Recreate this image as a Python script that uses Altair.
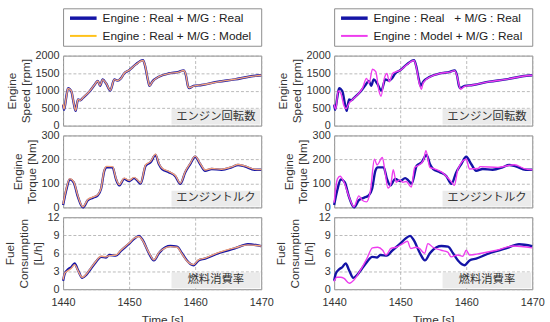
import altair as alt
import pandas as pd

FONT = "Liberation Sans"
JP_FONT = "Noto Sans CJK JP"

BLUE = "#1414A6"
MAGENTA = "#EE3CEE"
YELLOW = "#FFC21A"
PEACH = "#F2A27A"

# Time axis ticks [s]
x_ticks = [1440, 1450, 1460, 1470]

# ---- Engine speed [rpm] ----
spd_t = [1440.0, 1440.15, 1440.5, 1440.75, 1441.25, 1441.6, 1441.9, 1442.25, 1442.6, 1443.0,
         1444.0, 1444.75, 1445.25, 1445.6, 1446.0, 1446.5, 1447.15, 1447.75, 1448.25, 1448.75,
         1449.25, 1450.0, 1451.0, 1452.1, 1452.4, 1452.85, 1453.1, 1453.5, 1454.5, 1456.0,
         1457.5, 1458.25, 1458.6, 1458.9, 1459.1, 1459.75, 1461.0, 1463.5, 1466.0, 1468.5, 1470.0]
spd_real = [600, 450, 840, 1070, 980, 650, 420, 745, 725, 790,
            975, 1160, 1280, 1140, 1320, 1210, 1000, 1320, 1285, 1350,
            1490, 1580, 1750, 1870, 1720, 1300, 1135, 1255, 1395, 1490,
            1535, 1580, 1440, 1135, 1070, 1135, 1160, 1255, 1320, 1410, 1440]
spd_mg_model = [620, 470, 830, 1060, 990, 660, 430, 750, 720, 795,
                980, 1165, 1275, 1150, 1315, 1215, 1010, 1315, 1290, 1345,
                1495, 1585, 1745, 1860, 1730, 1310, 1140, 1250, 1400, 1485,
                1530, 1575, 1450, 1140, 1080, 1130, 1165, 1250, 1325, 1405, 1440]
spd_eng_t = [1440.0, 1440.25, 1440.6, 1441.0, 1441.5, 1441.8, 1442.3, 1442.8, 1443.55, 1444.3,
             1444.9, 1445.3, 1445.8, 1446.3, 1446.8, 1447.1, 1447.6, 1448.0, 1448.35, 1448.85,
             1449.35, 1450.0, 1451.0, 1452.1, 1452.4, 1452.9, 1453.2, 1453.5, 1454.5, 1456.0,
             1457.5, 1458.25, 1458.6, 1459.0, 1459.15, 1459.75, 1461.0, 1463.5, 1466.0, 1468.5, 1470.0]
spd_eng_model = [600, 470, 990, 930, 560, 480, 650, 745, 885, 1070,
                 1350, 1210, 1610, 1540, 980, 840, 1350, 1490, 1255, 1490,
                 1535, 1580, 1740, 1860, 1700, 1200, 1040, 1230, 1390, 1490,
                 1530, 1570, 1420, 1100, 1040, 1120, 1160, 1255, 1320, 1410, 1440]

# ---- Engine torque [Nm] ----
trq_t = [1440.0, 1440.5, 1441.0, 1441.6, 1442.25, 1443.0, 1443.75, 1444.5, 1445.25, 1445.75,
         1446.25, 1446.6, 1447.5, 1448.0, 1448.5, 1449.25, 1450.0, 1450.75, 1451.25, 1451.75,
         1452.5, 1453.25, 1454.0, 1454.5, 1455.0, 1456.0, 1457.0, 1457.75, 1458.5, 1459.25,
         1460.0, 1460.75, 1461.5, 1462.5, 1464.0, 1465.5, 1466.5, 1467.5, 1469.0, 1470.0]
trq_real = [10, 75, 117, 105, 44, 0, 30, 40, 50, 78,
            153, 167, 167, 119, 92, 119, 110, 122, 112, 99,
            174, 188, 219, 181, 160, 147, 130, 98, 147, 181,
            211, 181, 153, 160, 157, 167, 177, 171, 157, 157]
trq_mg_model = [14, 80, 120, 108, 47, 3, 33, 43, 53, 80,
                157, 171, 170, 122, 95, 122, 113, 125, 115, 102,
                178, 192, 222, 184, 163, 150, 133, 101, 150, 184,
                214, 184, 156, 162, 159, 169, 179, 173, 159, 158]
trq_eng_t = [1440.0, 1440.5, 1440.9, 1441.5, 1442.25, 1443.0, 1443.75, 1444.25, 1444.9, 1445.5,
             1446.1, 1446.5, 1447.3, 1447.65, 1448.15, 1448.6, 1448.95, 1449.4, 1449.9, 1450.4,
             1450.9, 1451.7, 1452.2, 1452.7, 1453.5, 1453.9, 1454.5, 1455.3, 1456.3, 1457.8,
             1458.2, 1458.75, 1460.0, 1460.5, 1461.8, 1462.1, 1464.8, 1467.3, 1468.8, 1470.0]
trq_eng_model = [20, 119, 130, 105, 44, 3, 48, 30, 23, 71,
                 201, 177, 208, 160, 81, 99, 157, 105, 115, 105,
                 108, 85, 167, 174, 195, 236, 167, 160, 147, 105,
                 92, 160, 201, 160, 162, 170, 167, 178, 162, 157]

# ---- Fuel consumption [L/h] ----
fuel_t = [1440.0, 1440.25, 1440.75, 1441.25, 1441.75, 1442.25, 1442.9, 1443.5, 1444.25, 1445.0,
          1445.75, 1446.5, 1447.0, 1448.0, 1448.75, 1450.0, 1450.75, 1451.5, 1452.0, 1453.0,
          1453.75, 1454.5, 1455.5, 1456.25, 1457.25, 1458.0, 1458.75, 1459.75, 1460.5, 1461.5,
          1463.5, 1466.0, 1468.0, 1470.0]
fuel_real = [1.4, 2.6, 3.3, 3.7, 4.3, 3.2, 1.9, 2.4, 3.5, 4.6,
             5.4, 5.3, 5.7, 5.6, 6.4, 7.6, 8.4, 8.9, 8.3, 6.0,
             4.8, 6.0, 7.0, 7.2, 7.1, 6.0, 4.8, 4.0, 4.8, 5.1,
             6.0, 6.8, 7.5, 7.2]
fuel_mg_model = [1.6, 2.7, 3.1, 3.5, 4.1, 3.1, 2.0, 2.5, 3.6, 4.7,
                 5.5, 5.4, 5.6, 5.7, 6.5, 7.7, 8.5, 8.8, 8.2, 6.1,
                 4.9, 6.1, 6.9, 7.1, 7.0, 5.9, 4.7, 4.1, 4.9, 5.2,
                 6.1, 6.9, 7.4, 7.2]
fuel_eng_t = [1440.0, 1440.4, 1441.0, 1441.5, 1442.3, 1443.05, 1444.05, 1444.95, 1445.8, 1446.6,
              1447.35, 1447.85, 1448.6, 1449.4, 1450.4, 1451.1, 1451.6, 1452.4, 1452.9, 1453.7,
              1454.2, 1454.95, 1456.2, 1457.2, 1457.7, 1458.7, 1459.5, 1460.0, 1460.5, 1462.3,
              1464.6, 1467.1, 1470.0]
fuel_eng_model = [1.3, 2.0, 2.0, 1.8, 1.0, 1.6, 3.3, 5.1, 6.9, 7.0,
                  6.5, 5.7, 6.8, 7.0, 7.6, 8.0, 6.8, 7.0, 6.8, 6.0,
                  7.6, 7.0, 6.5, 6.2, 5.4, 5.7, 5.5, 6.5, 5.7, 6.0,
                  6.5, 7.2, 6.9]

# Legend entries
left_labels = ["Engine : Real + M/G : Real", "Engine : Real + M/G : Model"]
right_labels = ["Engine : Real\u00a0\u00a0\u00a0+ M/G : Real", "Engine : Model + M/G : Real"]


def frame(t, v):
    return pd.DataFrame({"t": t, "v": v})


def legend_box(labels, colors, widths):
    df = pd.DataFrame({"label": labels, "row": [0, 1]})
    y = alt.Y("row:Q", axis=None, scale=alt.Scale(domain=[0, 1], range=[10, 28]))
    rule = alt.Chart(df).mark_rule().encode(
        x=alt.value(7), x2=alt.value(34), y=y,
        color=alt.Color("label:N", scale=alt.Scale(domain=labels, range=colors), legend=None),
        strokeWidth=alt.StrokeWidth("label:N", scale=alt.Scale(domain=labels, range=widths), legend=None),
    )
    text = alt.Chart(df).mark_text(align="left", baseline="middle", font=FONT, fontSize=12,
                                   color="#222222").encode(x=alt.value(40), y=y, text="label:N")
    return alt.layer(rule, text).properties(width=201, height=38)


def panel(real_t, real_v, other_t, other_v, other_color, y_dom, y_ticks, y_title, tag, h, bottom):
    if bottom:
        x_axis = alt.Axis(values=x_ticks, title="Time [s]", format="d", labelFlush=False,
                          labelOverlap=False, labelPadding=8, titlePadding=7)
    else:
        x_axis = alt.Axis(values=x_ticks, labels=False, title=None)
    x = alt.X("t:Q", scale=alt.Scale(domain=[1440, 1470], nice=False, zero=False), axis=x_axis)
    y = alt.Y("v:Q", scale=alt.Scale(domain=y_dom, nice=False),
              axis=alt.Axis(values=y_ticks, title=y_title, format="d", labelOverlap=False))
    tag_df = pd.DataFrame({"tag": [tag]})
    box = alt.Chart(tag_df).mark_rect(color="#EBEBEB").encode(
        x=alt.value(110), x2=alt.value(200), y=alt.value(h - 17), y2=alt.value(h - 1))
    txt = alt.Chart(tag_df).mark_text(font=JP_FONT, fontSize=11.5, color="#333333").encode(
        x=alt.value(155), y=alt.value(h - 9), text="tag:N")
    real = alt.Chart(frame(real_t, real_v)).mark_line(
        color=BLUE, strokeWidth=2.4, interpolate="monotone").encode(x=x, y=y)
    other = alt.Chart(frame(other_t, other_v)).mark_line(
        color=other_color, strokeWidth=1.4, interpolate="monotone").encode(x=x, y=y)
    return alt.layer(box, txt, real, other).properties(width=201, height=h)


def column(labels, leg_colors, leg_widths, other_color, spd, trq, fuel):
    return alt.vconcat(
        legend_box(labels, leg_colors, leg_widths),
        panel(spd_t, spd_real, spd[0], spd[1], other_color, [0, 2000], [0, 500, 1000, 1500, 2000],
              ["Engine", "Speed [rpm]"], "エンジン回転数", 71, False),
        panel(trq_t, trq_real, trq[0], trq[1], other_color, [0, 300], [0, 100, 200, 300],
              ["Engine", "Torque [Nm]"], "エンジントルク", 73, False),
        panel(fuel_t, fuel_real, fuel[0], fuel[1], other_color, [0, 12], [0, 3, 6, 9, 12],
              ["Fuel", "Consumption", "[L/h]"], "燃料消費率", 73, True),
        spacing=10,
        bounds="flush",
    ).resolve_scale(x="independent", y="independent", color="independent", strokeWidth="independent")


left = column(left_labels, [BLUE, YELLOW], [3.5, 2], PEACH,
              (spd_t, spd_mg_model), (trq_t, trq_mg_model), (fuel_t, fuel_mg_model))
right = column(right_labels, [BLUE, MAGENTA], [3.5, 2], MAGENTA,
               (spd_eng_t, spd_eng_model), (trq_eng_t, trq_eng_model), (fuel_eng_t, fuel_eng_model))

chart = alt.hconcat(left, right, spacing=0).resolve_scale(
    x="independent", y="independent", color="independent", strokeWidth="independent"
).properties(
    padding={"left": 3, "top": 5, "right": 5, "bottom": 5}, background="white"
).configure_view(
    stroke="#8C8C8C", strokeWidth=1
).configure_axis(
    labelFont=FONT, labelFontSize=11, labelColor="#333333", labelPadding=4,
    titleFont=FONT, titleFontSize=12, titleFontWeight="normal", titleColor="#333333",
    titlePadding=3, titleLineHeight=14,
    ticks=False, domain=False,
    gridColor="#A8A8A8", gridDash=[3, 2], gridWidth=0.8,
)

chart.save("out.html", embed_options={"renderer": "svg", "actions": False})
